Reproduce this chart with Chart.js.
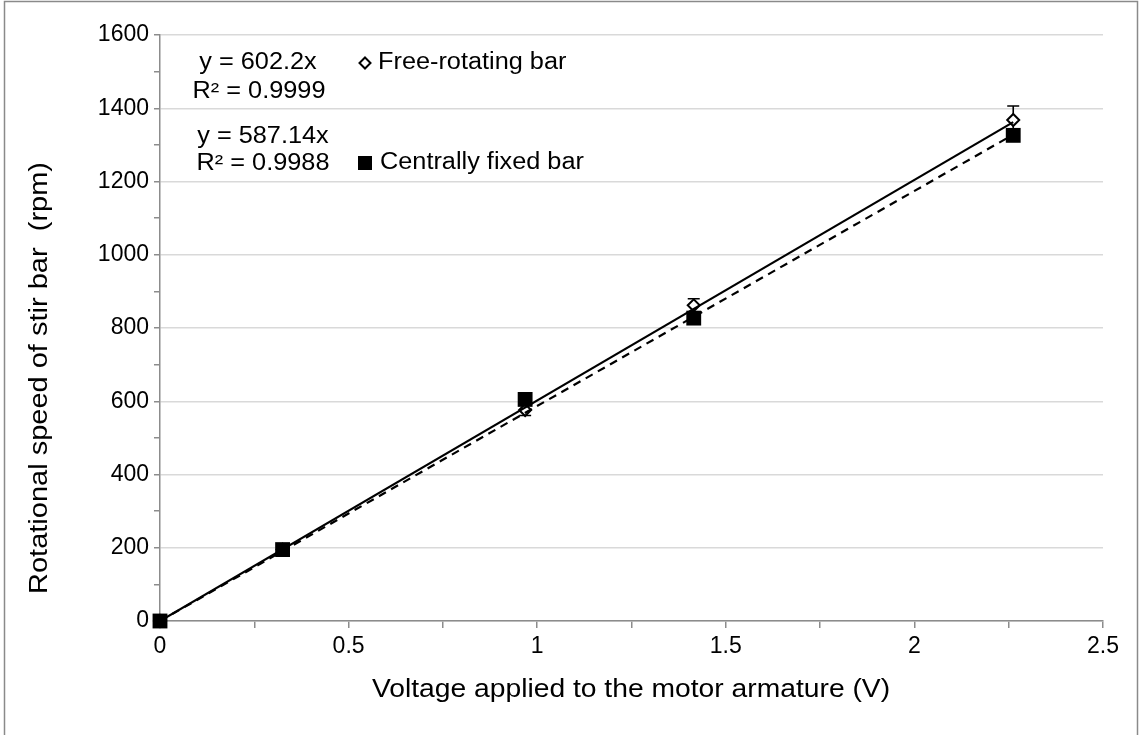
<!DOCTYPE html>
<html><head><meta charset="utf-8">
<script src="https://cdn.jsdelivr.net/npm/chart.js@4.4.0/dist/chart.umd.min.js"></script>
<style>html,body{margin:0;padding:0;background:#fff;overflow:hidden}#wrap{width:1141px;height:735px;position:relative}</style>
</head><body><div id="wrap"><canvas id="c" width="1141" height="735"></canvas></div>
<script>
// ---- data ----
const voltage = [0, 0.325, 0.968, 1.415, 2.262];
const freeRpm = [0, 195, 576, 862, 1368];
const freeErr = [0, 5, 15, 18, 38];
const fixedRpm = [0, 195, 605, 827, 1326];
const trendX = [0, 2.262];
const freeTrend = [0, 1362];
const fixedTrend = [0, 1328];
const seriesNames = ['Free-rotating bar', 'Centrally fixed bar'];
const eqLabels = ['y = 602.2x', 'R\u00B2 = 0.9999', 'y = 587.14x', 'R\u00B2 = 0.9988'];
const xTitle = 'Voltage applied to the motor armature (V)';
const yTitle = 'Rotational speed of stir bar  (rpm)';

const FONT = "'Liberation Sans', Arial, sans-serif";
const AXIS = '#8c8c8c';
const GRID = '#d9d9d9';

const pts = (xs, ys) => xs.map((x, i) => ({x: x, y: ys[i]}));

function stretchedText(ctx, text, x, y, size, sx, align) {
  ctx.save();
  ctx.font = size + 'px ' + FONT;
  ctx.textAlign = align;
  ctx.textBaseline = 'middle';
  ctx.translate(x, y);
  ctx.scale(sx, 1);
  ctx.fillText(text, 0, 0);
  ctx.restore();
}

const decor = {
  id: 'decor',
  beforeDraw(chart) {
    const ctx = chart.ctx;
    ctx.save();
    ctx.fillStyle = '#fff';
    ctx.fillRect(0, 0, chart.width, chart.height);
    ctx.strokeStyle = '#8a8a8a';
    ctx.lineWidth = 1.5;
    ctx.strokeRect(4.5, 1.5, 1133, 760);
    ctx.restore();
  },
  afterDatasetDraw(chart, args) {
    if (args.index !== 3) return;
    const ctx = chart.ctx;
    const xs = chart.scales.x, ys = chart.scales.y;
    ctx.save();
    ctx.strokeStyle = '#000';
    ctx.lineWidth = 1.6;
    voltage.forEach((v, i) => {
      if (!freeErr[i]) return;
      const px = xs.getPixelForValue(v);
      const py = ys.getPixelForValue(freeRpm[i]);
      const top = ys.getPixelForValue(freeRpm[i] + freeErr[i]);
      const bot = ys.getPixelForValue(freeRpm[i] - freeErr[i]);
      ctx.beginPath();
      ctx.moveTo(px, top); ctx.lineTo(px, py - 6);
      ctx.moveTo(px, py + 6); ctx.lineTo(px, bot);
      ctx.moveTo(px - 6, top); ctx.lineTo(px + 6, top);
      ctx.moveTo(px - 6, bot); ctx.lineTo(px + 6, bot);
      ctx.stroke();
    });
    ctx.restore();
  },
  afterDraw(chart) {
    const ctx = chart.ctx;
    ctx.save();
    ctx.fillStyle = '#000';
    stretchedText(ctx, eqLabels[0], 258, 63, 23, 1.1, 'center');
    stretchedText(ctx, eqLabels[1], 259, 92, 23, 1.1, 'center');
    stretchedText(ctx, eqLabels[2], 263, 137, 23, 1.1, 'center');
    stretchedText(ctx, eqLabels[3], 263, 164, 23, 1.1, 'center');
    // legend
    ctx.strokeStyle = '#000'; ctx.lineWidth = 2;
    ctx.beginPath();
    ctx.moveTo(365, 57.5); ctx.lineTo(370.5, 63); ctx.lineTo(365, 68.5); ctx.lineTo(359.5, 63); ctx.closePath();
    ctx.fillStyle = '#fff'; ctx.fill(); ctx.stroke();
    ctx.fillStyle = '#000';
    stretchedText(ctx, seriesNames[0], 378, 63, 23, 1.1, 'left');
    ctx.fillRect(358, 156, 14, 14);
    stretchedText(ctx, seriesNames[1], 380, 163, 23, 1.1, 'left');
    // axis titles
    stretchedText(ctx, xTitle, 631, 690, 25, 1.13, 'center');
    ctx.save();
    ctx.translate(40, 378);
    ctx.rotate(-Math.PI / 2);
    stretchedText(ctx, yTitle, 0, 0, 25, 1.16, 'center');
    ctx.restore();
    ctx.restore();
  }
};

new Chart(document.getElementById('c'), {
  type: 'scatter',
  data: {
    datasets: [
      { label: seriesNames[1], data: pts(voltage, fixedRpm), pointStyle: 'rect', pointRadius: 10.5, pointHoverRadius: 10.5,
        backgroundColor: '#000', borderColor: '#000', borderWidth: 0, showLine: false, clip: false },
      { label: 'trend free', data: pts(trendX, freeTrend), showLine: true, pointRadius: 0,
        borderColor: '#000', borderWidth: 2.2, fill: false },
      { label: 'trend fixed', data: pts(trendX, fixedTrend), showLine: true, pointRadius: 0,
        borderColor: '#000', borderWidth: 2.2, borderDash: [8, 6], fill: false },
      { label: seriesNames[0], data: pts(voltage, freeRpm), pointStyle: 'rectRot', pointRadius: 6, pointHoverRadius: 6,
        backgroundColor: '#fff', borderColor: '#000', borderWidth: 2, showLine: false, clip: false }
    ]
  },
  options: {
    responsive: false,
    animation: false,
    devicePixelRatio: 1,
    layout: { padding: { left: 0, right: 38, top: 35, bottom: 0 } },
    plugins: { legend: { display: false }, tooltip: { enabled: false } },
    scales: {
      x: {
        type: 'linear', min: 0, max: 2.5,
        afterFit(s) { s.height = 114; },
        border: { color: AXIS, width: 1.5 },
        grid: { drawOnChartArea: false, color: AXIS, tickColor: AXIS, tickLength: 7, lineWidth: 1.5 },
        ticks: { stepSize: 0.25, autoSkip: false, maxRotation: 0, padding: 5, color: '#000',
          font: { family: FONT, size: 23 },
          callback: (v) => (Math.abs(v * 2 - Math.round(v * 2)) < 1e-9 ? String(v) : '') }
      },
      y: {
        type: 'linear', min: 0, max: 1600,
        afterFit(s) { s.width = 160; },
        border: { color: AXIS, width: 1.5 },
        grid: {
          color: (c) => (c.tick && c.tick.value % 200 === 0 ? GRID : 'rgba(0,0,0,0)'),
          tickColor: AXIS, tickLength: 6, lineWidth: 1.5
        },
        ticks: { stepSize: 100, autoSkip: false, padding: 5, color: '#000',
          font: { family: FONT, size: 23 },
          callback: (v) => (v % 200 === 0 ? String(v) : '') }
      }
    }
  },
  plugins: [decor]
});
</script>
</body></html>
